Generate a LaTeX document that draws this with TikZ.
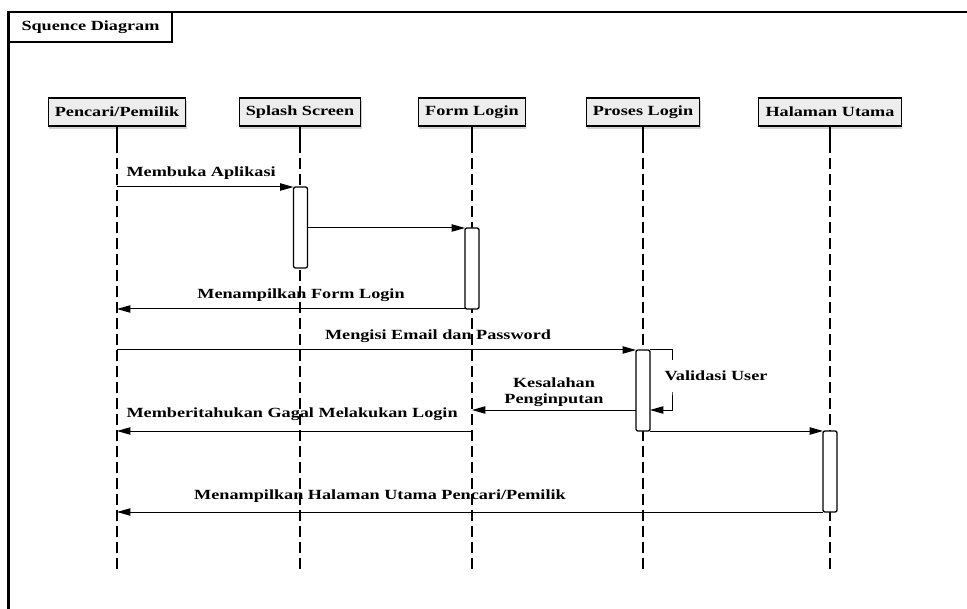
\documentclass[tikz,border=0pt]{standalone}
\usepackage{fontspec}
\setmainfont{Liberation Serif}[FakeStretch=1.3]
\usetikzlibrary{arrows.meta,shadows}

\newcommand\teks{\fontsize{10.5}{12}\selectfont\bfseries}

\tikzset{every picture/.style={line width=0.75pt}}
\tikzset{
  kepala/.style={draw, fill=black!7, line width=0.8pt, minimum height=21pt, inner xsep=5pt, font=\teks,
    drop shadow={shadow xshift=0.6pt, shadow yshift=-2.5pt, opacity=0.25, fill=black!70}},
  aktif/.style={draw, fill=white, line width=1pt, rounded corners=1.5pt, minimum width=10.5pt, minimum height=60.75pt, inner sep=0pt, outer sep=0pt, anchor=north},
  garis hidup/.style={line width=1pt, dash pattern={on 8.25pt off 3.75pt}},
  pesan/.style={-{Triangle[length=10pt,width=5.5pt]}, line width=0.75pt},
  label/.style={font=\teks, inner sep=0.75pt, align=center}
}

\begin{document}
\begin{tikzpicture}[x=0.75pt,y=0.75pt,yscale=-1,xscale=1]
\useasboundingbox (0,0) rectangle (967,609);
\clip (0,0) rectangle (967,609);

%Shape: Frame
\draw [line width=1.6pt]  (8.5,620) -- (8.5,12) -- (980,12) ;
%Shape: Title Box
\draw [line width=1.6pt]  (8.5,42) -- (172,42) -- (172,12) ;
% Text Node
\node [label, anchor=west] (judul) at (20,27) {Squence Diagram};

% Lifeline heads
\node [kepala] (pencari) at (117,112) {Pencari/Pemilik};
\node [kepala] (splash) at (300,112) {Splash Screen};
\node [kepala] (form) at (472,112) {Form Login};
\node [kepala] (proses) at (643,112) {Proses Login};
\node [kepala] (halaman) at (830,112) {Halaman Utama};

% Lifelines
\foreach \n in {pencari,splash,form,proses,halaman}{
  \draw [line width=1pt] (\n.south) -- ++(0,15) coordinate (\n-a);
  \draw [garis hidup] (\n-a) -- (\n.south |- 0,573);
}

%Shape: Activation boxes
\node [aktif] (aktSplash) at (300.5,187) {};
\node [aktif] (aktForm) at (472,228) {};
\node [aktif] (aktProses) at (643,350) {};
\node [aktif] (aktHalaman) at (830,431) {};

%Straight Lines
\draw [pesan] (pencari |- aktSplash.north) -- (aktSplash.north west) ;
\draw [pesan] (aktSplash.east |- aktForm.north) -- (aktForm.north west) ;
\draw [pesan] (aktForm.south west) -- (pencari |- aktForm.south) ;
\draw [pesan] (pencari |- aktProses.north) -- (aktProses.north west) ;
\coordinate (validasi) at (672,380) ;
\draw [pesan] (aktProses.north east) -| (validasi) |- (aktProses.east |- 0,410) ;
\draw [pesan] (aktProses.west |- 0,410) -- (form |- 0,410) ;
\draw [pesan] (form |- aktHalaman.north) -- (pencari |- aktHalaman.north) ;
\draw [pesan] (aktProses.south east) -- (aktHalaman.north west) ;
\draw [pesan] (aktHalaman.south west) -- (pencari |- aktHalaman.south) ;

% Text Node
\node [label, anchor=base west] (lblBuka) at (125,177) {Membuka Aplikasi};
% Text Node
\node [label, anchor=base] (lblForm) at (301,299) {Menampilkan Form Login};
% Text Node
\node [label, anchor=base] (lblIsi) at (438,340) {Mengisi Email dan Password};
% Text Node
\node [label, anchor=west, fill=white, minimum height=24pt] (lblValid) at (663,376) {Validasi User};
% Text Node
\node [label, anchor=base] (lblSalah) at (554,403) {Kesalahan\\Penginputan};
% Text Node
\node [label, anchor=base west] (lblGagal) at (125,417) {Memberitahukan Gagal Melakukan Login};
% Text Node
\node [label, anchor=base] (lblUtama) at (380,499) {Menampilkan Halaman Utama Pencari/Pemilik};

\end{tikzpicture}
\end{document}
